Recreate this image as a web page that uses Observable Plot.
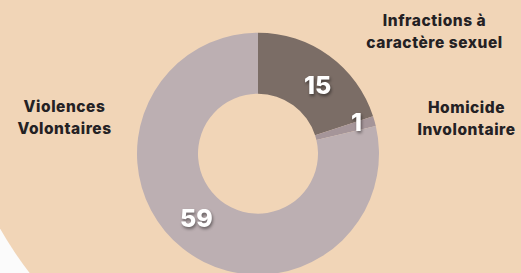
<!DOCTYPE html>
<html><head><meta charset="utf-8">
<script src="https://cdn.jsdelivr.net/npm/d3@7"></script>
<script src="https://cdn.jsdelivr.net/npm/@observablehq/plot@0.6"></script>
<style>
html,body{margin:0;padding:0;background:#fbfbfb;overflow:hidden;}
g.cat text{letter-spacing:0.55px;}
</style></head><body><div id="chart"></div>
<script>
// ---- data ----
const categories = ["Infractions à caractère sexuel", "Homicide Involontaire", "Violences Volontaires"];
const values = [15, 1, 59];
const labelLines = [["Infractions à", "caractère sexuel"], ["Homicide", "Involontaire"], ["Violences", "Volontaires"]];
const colors = ["#7b6d66", "#a59599", "#bcafb2"];

// ---- layout (pixel units centred on the donut) ----
const W = 521, H = 273;
const cx = 258, cy = 153.7;
const R = 121, R0 = 60;
const peach = "#f1d5b7";

const data = categories.map((c, i) => ({category: c, value: values[i], color: colors[i]}));
const arcs = d3.pie().sort(null).value(d => d.value)(data);

const valueLabels = arcs.map(a => {
  const small = (a.endAngle - a.startAngle) < 0.2;
  const lr = small ? 103 : 90;
  const ang = (a.startAngle + a.endAngle) / 2 + (small ? -0.04 : 0.09);
  return {x: lr * Math.sin(ang), y: -lr * Math.cos(ang), text: String(a.data.value)};
});

// category label anchors (annotation positions, px relative to centre)
const catPos = [[176, -132.7], [208, -46], [-194, -47.5]];
const catLabels = [];
labelLines.forEach((lines, i) => lines.forEach((t, j) => {
  catLabels.push({x: catPos[i][0], y: catPos[i][1] + j * 22, text: t});
}));

function backdrop(index, scales) {
  const c = d3.create("svg:circle")
    .attr("cx", scales.x(72)).attr("cy", scales.y(-113.5)).attr("r", 380)
    .attr("fill", peach);
  return c.node();
}
function donut(index, scales) {
  const g = d3.create("svg:g")
    .attr("transform", `translate(${scales.x(0)},${scales.y(0)})`);
  const k = scales.x(1) - scales.x(0);
  const arc = d3.arc().innerRadius(R0 * k).outerRadius(R * k);
  g.selectAll("path").data(arcs).join("path")
    .attr("d", arc).attr("fill", d => d.data.color);
  return g.node();
}

const plot = Plot.plot({
  width: W, height: H,
  margin: 0,
  x: {domain: [-cx, W - cx], range: [0, W], axis: null},
  y: {domain: [-cy, H - cy], range: [0, H], axis: null},
  style: {background: "transparent", fontFamily: "Inter, 'Open Sans', sans-serif"},
  marks: [
    backdrop,
    donut,
    Plot.text(valueLabels, {
      x: "x", y: "y", text: "text",
      fill: "white", fontSize: 25, fontWeight: 800,
      imageFilter: "drop-shadow(1px 2px 1.5px rgba(0,0,0,0.45))"
    }),
    Plot.text(catLabels, {
      x: "x", y: "y", text: "text", className: "cat",
      fill: "#242124", fontSize: 15.5, fontWeight: 800
    })
  ]
});
document.getElementById("chart").append(plot);
</script>
</body></html>
